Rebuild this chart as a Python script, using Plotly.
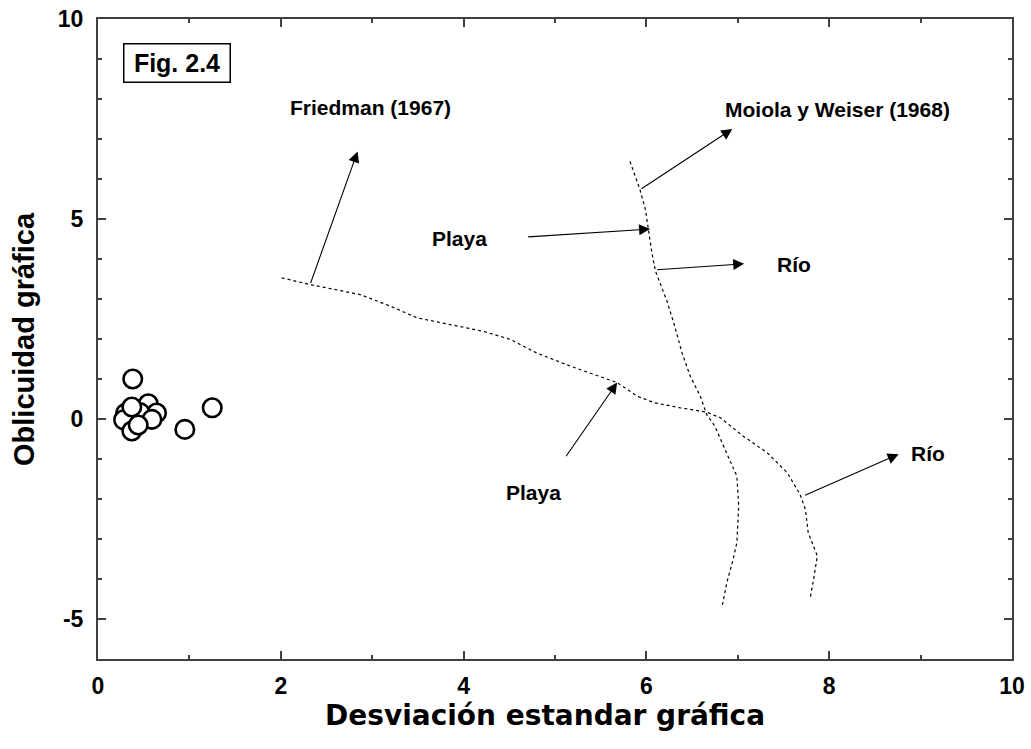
import plotly.graph_objects as go

# Sample points: graphic standard deviation vs graphic skewness
sample_sd = [0.38, 1.25, 0.95, 0.30, 0.55, 0.64, 0.46, 0.28, 0.37, 0.59, 0.37, 0.44]
sample_sk = [1.00, 0.28, -0.26, 0.14, 0.38, 0.15, 0.16, -0.02, 0.30, -0.01, -0.30, -0.15]

# Friedman (1967) boundary line between beach and river sands
friedman_x = [2.01, 2.32, 2.87, 3.20, 3.49, 3.78, 4.22, 4.51, 4.80, 5.17, 5.68, 5.90,
              6.08, 6.37, 6.66, 6.81, 7.06, 7.32, 7.54, 7.68, 7.74, 7.77, 7.87, 7.83, 7.79]
friedman_y = [3.53, 3.36, 3.11, 2.82, 2.53, 2.40, 2.19, 1.99, 1.65, 1.32, 0.91, 0.57,
              0.41, 0.28, 0.17, 0.03, -0.43, -0.84, -1.34, -1.88, -2.26, -2.84, -3.42, -4.00, -4.50]

# Moiola y Weiser (1968) boundary line
moiola_x = [5.82, 5.93, 5.99, 6.02, 6.06, 6.10, 6.22, 6.30, 6.39, 6.48, 6.59, 6.66,
            6.75, 6.86, 6.99, 7.01, 6.99, 6.94, 6.88, 6.83]
moiola_y = [6.44, 5.73, 5.23, 4.73, 4.15, 3.69, 2.98, 2.40, 1.65, 1.07, 0.57, 0.11,
            -0.18, -0.76, -1.43, -2.17, -3.09, -3.59, -4.09, -4.67]

# Arrows: tail (x0, y0) -> head (x1, y1)
arrow_x0 = [2.32, 4.69, 5.11, 5.93, 6.10, 7.72]
arrow_y0 = [3.36, 4.55, -0.97, 5.73, 3.73, -1.92]
arrow_x1 = [2.84, 6.04, 5.68, 6.94, 7.07, 8.76]
arrow_y1 = [6.69, 4.75, 0.91, 7.25, 3.88, -0.88]

# Text labels
label_text = ["Friedman (1967)", "Moiola y Weiser (1968)", "Playa", "Río", "Río", "Playa"]
label_x = [2.98, 8.09, 3.96, 7.62, 9.08, 4.76]
label_y = [7.80, 7.75, 4.51, 3.86, -0.86, -1.83]

x_ticks = [0, 2, 4, 6, 8, 10]
y_ticks = [-5, 0, 5, 10]

BOLD = dict(family="Liberation Sans", weight="bold", color="black")
AXIS_COLOR = "#404040"

fig = go.Figure()

for lx, ly in [(friedman_x, friedman_y), (moiola_x, moiola_y)]:
    fig.add_trace(go.Scatter(
        x=lx, y=ly, mode="lines",
        line=dict(color="black", width=1.2, dash="3px,3px"),
        hoverinfo="skip", showlegend=False,
    ))

fig.add_trace(go.Scatter(
    x=sample_sd, y=sample_sk, mode="markers",
    marker=dict(symbol="circle", size=18.5, color="white",
                line=dict(color="black", width=2.6)),
    showlegend=False, cliponaxis=False,
))

annotations = []
for x0, y0, x1, y1 in zip(arrow_x0, arrow_y0, arrow_x1, arrow_y1):
    annotations.append(dict(
        x=x1, y=y1, ax=x0, ay=y0, xref="x", yref="y", axref="x", ayref="y",
        text="", showarrow=True, arrowhead=2, arrowsize=2.0, arrowwidth=1.1,
        arrowcolor="black", standoff=0, startstandoff=0,
    ))
for t, x, y in zip(label_text, label_x, label_y):
    annotations.append(dict(
        x=x, y=y, xref="x", yref="y", text=t, showarrow=False,
        font=dict(size=21, **BOLD), xanchor="center", yanchor="middle",
    ))

# Figure tag in the upper-left corner
annotations.append(dict(
    x=0.0275, y=0.963, xref="paper", yref="paper", text="Fig. 2.4",
    showarrow=False, xanchor="left", yanchor="top",
    font=dict(size=25, **BOLD), bordercolor="black", borderwidth=1.5,
    borderpad=2, bgcolor="white", width=101, height=33,
))

# Axis titles
annotations.append(dict(
    x=0.489, y=-0.089, xref="paper", yref="paper",
    text="Desviación estandar gráfica", showarrow=False,
    xanchor="center", yanchor="middle",
    font=dict(family="DejaVu Sans", weight="bold", color="black", size=28),
))
annotations.append(dict(
    x=-0.081, y=0.50, xref="paper", yref="paper",
    text="Oblicuidad gráfica", showarrow=False, textangle=-90,
    xanchor="center", yanchor="middle",
    font=dict(size=29, **BOLD),
))

axis_common = dict(
    showgrid=False, zeroline=False, automargin=False,
    showline=True, linecolor=AXIS_COLOR, linewidth=2, mirror="allticks",
    ticks="inside", ticklen=8, tickwidth=1.5, tickcolor=AXIS_COLOR,
    tickfont=dict(size=23, **BOLD),
    minor=dict(dtick=1, tick0=0, ticks="inside", ticklen=4,
               tickwidth=1.5, tickcolor=AXIS_COLOR, showgrid=False),
)

fig.update_layout(
    width=1031, height=749,
    margin=dict(l=98, r=19, t=19, b=90, autoexpand=False),
    paper_bgcolor="white", plot_bgcolor="white",
    showlegend=False,
    annotations=annotations,
    xaxis=dict(range=[0, 10], tickvals=x_ticks, ticktext=[str(v) for v in x_ticks],
               ticklabelstandoff=5, **axis_common),
    yaxis=dict(range=[-6, 10], tickvals=y_ticks, ticktext=[str(v) for v in y_ticks],
               ticklabelstandoff=8, **axis_common),
)

fig.write_html("out.html")
